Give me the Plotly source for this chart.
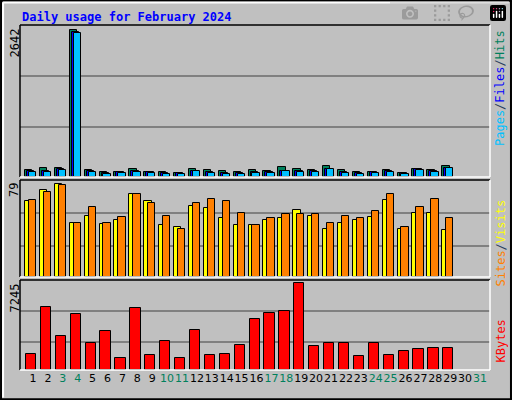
import plotly.graph_objects as go

days = list(range(1, 32))
hits = [132,167,167,2642,132,96,96,150,96,96,78,150,132,114,96,132,114,185,150,132,203,132,96,96,132,78,150,132,203]
files = [100,100,136,2600,100,64,82,100,82,64,64,114,82,64,64,82,82,114,100,100,150,82,64,82,100,64,136,100,160]
pages = [96,96,132,2590,96,60,78,96,78,60,60,108,78,60,60,78,78,108,96,96,143,78,60,78,96,60,132,96,155]
visits = [64,74,79,46,52,45,48,70,64,44,42,60,58,50,44,44,48,50,57,52,41,46,48,51,65,41,54,54,40]
sites = [65,72,78,46,59,46,51,70,63,52,41,63,66,64,54,44,50,53,53,53,46,52,50,56,70,42,59,66,50]
kbytes = [1375,5262,2882,4706,2247,3279,978,5182,1216,2406,978,3358,1296,1375,2089,4310,4786,4944,7245,2009,2247,2247,1137,2247,1296,1613,1771,1851,1851]
weekend = [3,4,10,11,17,18,24,25,31]

d = days[:len(hits)]
fig = go.Figure()
ln = dict(color="black", width=1)
def bar(y, color, off, w, ax):
    fig.add_trace(go.Bar(x=d, y=y, offset=off, width=w, marker=dict(color=color, line=ln),
                         xaxis="x" + ax, yaxis="y" + ax, showlegend=False, hoverinfo="skip"))
bar(hits, "#00805C", -0.537, 0.49, "")
bar(files, "#0000FF", -0.40, 0.49, "")
bar(pages, "#00C0FF", -0.27, 0.49, "")
bar(visits, "#FFFF00", -0.537, 0.49, "2")
bar(sites, "#FF8000", -0.27, 0.49, "2")
bar(kbytes, "#FF0000", -0.47, 0.69, "3")

xr = [0.128, 31.67]
xd = [20/512, 490/512]
ticktext = [f'<span style="color:{"#00805C" if k in weekend else "black"}">{k}</span>' for k in days]
common = dict(range=xr, domain=xd, showgrid=False, zeroline=False, fixedrange=True)
ycommon = dict(showticklabels=False, zeroline=False, gridcolor="#808080", gridwidth=1.5, fixedrange=True)
fig.update_layout(
    width=512, height=400, margin=dict(l=0, r=0, t=0, b=0),
    paper_bgcolor="#C0C0C0", plot_bgcolor="#C0C0C0", barmode="overlay", bargap=0,
    xaxis=dict(common, showticklabels=False, anchor="y"),
    xaxis2=dict(common, showticklabels=False, anchor="y2"),
    xaxis3=dict(common, anchor="y3", tickmode="array", tickvals=days, ticktext=ticktext, tickangle=0,
                tickfont=dict(family="DejaVu Sans", size=11), ticks="", ticklen=0),
    yaxis=dict(ycommon, domain=[1-177/400, 1-25/400], range=[0, 2732], tickvals=[899, 1817]),
    yaxis2=dict(ycommon, domain=[1-277/400, 1-180/400], range=[0, 82.1], tickvals=[25.9, 54.2]),
    yaxis3=dict(ycommon, domain=[1-370/400, 1-280/400], range=[0, 7536], tickvals=[2327, 4944]),
    font=dict(family="DejaVu Sans Mono"),
)
shapes = [
    dict(type="rect", xref="paper", yref="paper", x0=0.002, y0=0.002, x1=0.998, y1=0.998, line=dict(color="black", width=2)),
    dict(type="line", xref="paper", yref="paper", x0=0.006, y0=0.994, x1=0.994, y1=0.994, line=dict(color="white", width=2)),
    dict(type="line", xref="paper", yref="paper", x0=0.006, y0=0.994, x1=0.006, y1=0.006, line=dict(color="white", width=2)),
]
for y0, y1 in [(25, 177), (180, 277), (280, 370)]:
    a, b = 1 - y1/400, 1 - y0/400
    shapes += [
        dict(type="line", xref="paper", yref="paper", x0=xd[0], y0=b, x1=xd[1], y1=b, line=dict(color="black", width=1.5)),
        dict(type="line", xref="paper", yref="paper", x0=xd[0], y0=a, x1=xd[0], y1=b, line=dict(color="black", width=1.5)),
        dict(type="line", xref="paper", yref="paper", x0=xd[0], y0=a, x1=xd[1], y1=a, line=dict(color="white", width=1.5)),
        dict(type="line", xref="paper", yref="paper", x0=xd[1], y0=a, x1=xd[1], y1=b, line=dict(color="white", width=1.5)),
    ]
fig.update_layout(shapes=shapes)
ann = [
    dict(x=20/512, y=1-8/400, text="<b>Daily usage for February 2024</b>", font=dict(color="#0000FF", size=12),
         xanchor="left", yanchor="top"),
]
for txt, ytop in [("2642", 27), ("79", 181), ("7245", 282)]:
    ann.append(dict(x=14/512, y=1-ytop/400, text=txt, textangle=-90, font=dict(color="black", size=12),
                    xanchor="center", yanchor="top"))
ann += [
    dict(x=500/512, y=1-28/400, textangle=-90, xanchor="center", yanchor="top", font=dict(size=12),
         text='<span style="color:#00C0FF">Pages</span>/<span style="color:#0000FF">Files</span>/<span style="color:#00805C">Hits</span>'),
    dict(x=500/512, y=1-198/400, textangle=-90, xanchor="center", yanchor="top", font=dict(size=12),
         text='<span style="color:#FF8000">Sites</span>/<span style="color:#FFFF00">Visits</span>'),
    dict(x=500/512, y=1-318/400, textangle=-90, xanchor="center", yanchor="top", font=dict(size=12),
         text='<span style="color:#FF0000">KBytes</span>'),
]
for a in ann:
    a.update(xref="paper", yref="paper", showarrow=False)
fig.update_layout(annotations=ann)
fig.write_html("out.html", post_script="document.body.style.margin='0';document.body.style.overflow='hidden';")
